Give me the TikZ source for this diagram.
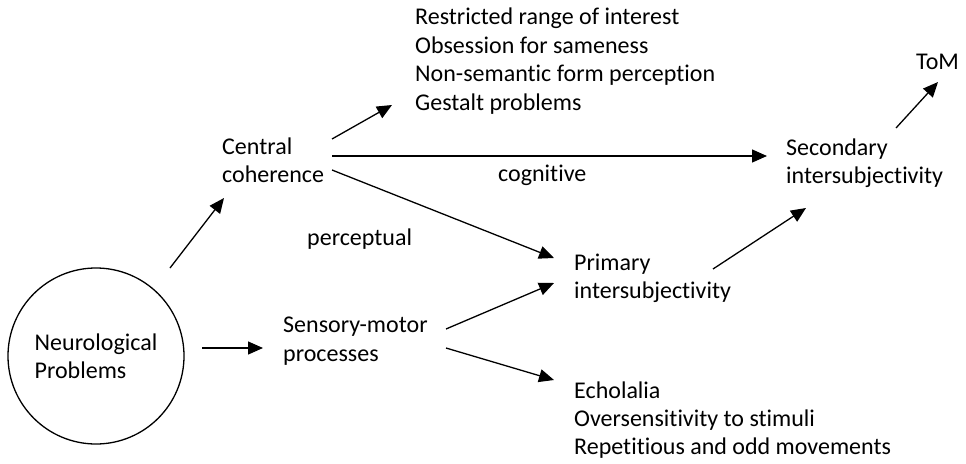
\documentclass[tikz,border=0pt]{standalone}
\usepackage{fontspec}
\setmainfont{Carlito}[Ligatures={NoCommon}]
\usetikzlibrary{arrows.meta,calc}
\begin{document}
\begin{tikzpicture}[x=1pt,y=-1pt,
  lbl/.style={anchor=west,align=left,inner sep=0pt,font=\fontsize{24}{28.4}\selectfont},
  conn/.style={line width=1.3pt,-{Triangle[length=15pt,width=13pt]}}]
\useasboundingbox (0,0) rectangle (966,463);
\node[draw,circle,line width=1.3pt,minimum size=176pt,inner sep=0pt,align=left,font=\fontsize{24}{28.4}\selectfont] (neuro) at (96,356) {Neurological\\Problems};
\node[lbl] (central) at (222,160) {Central\\coherence};
\node[lbl] (list1) at (415,61) {Restricted range of interest\\Obsession for sameness\\Non-semantic form perception\\Gestalt problems};
\node[lbl] (sensory) at (283,341) {Sensory-motor\\processes};
\node[lbl] (primary) at (574,278) {Primary\\intersubjectivity};
\node[lbl] (echo) at (574,420) {Echolalia\\Oversensitivity to stimuli\\Repetitious and odd movements};
\node[lbl] (secondary) at (786,163) {Secondary\\intersubjectivity};
\node[lbl] (tom) at (916,62) {ToM};
\node[lbl] (cognitive) at (498,175) {cognitive};
\node[lbl] (perceptual) at (307,239) {perceptual};
\draw[conn] ($(neuro.center)+(106,-8)$) -- ($(sensory.west)+(-20,7)$);
\draw[conn] ($(neuro.center)+(74,-88)$) -- ($(central.west)+(2,38)$);
\draw[conn] ($(central.west)+(110,-21)$) -- ($(list1.west)+(-23,44)$);
\draw[conn] ($(central.west)+(110,-4)$) -- ($(secondary.west)+(-19,-7)$);
\draw[conn] ($(central.west)+(110,10)$) -- ($(primary.west)+(-20,-20)$);
\draw[conn] ($(sensory.west)+(163,-12)$) -- ($(primary.west)+(-20,5)$);
\draw[conn] ($(sensory.west)+(163,7)$) -- ($(echo.west)+(-20,-40)$);
\draw[conn] ($(primary.west)+(139,-9)$) -- ($(secondary.west)+(20,45)$);
\draw[conn] ($(secondary.west)+(110,-35)$) -- ($(tom.west)+(22,20)$);
\end{tikzpicture}
\end{document}
